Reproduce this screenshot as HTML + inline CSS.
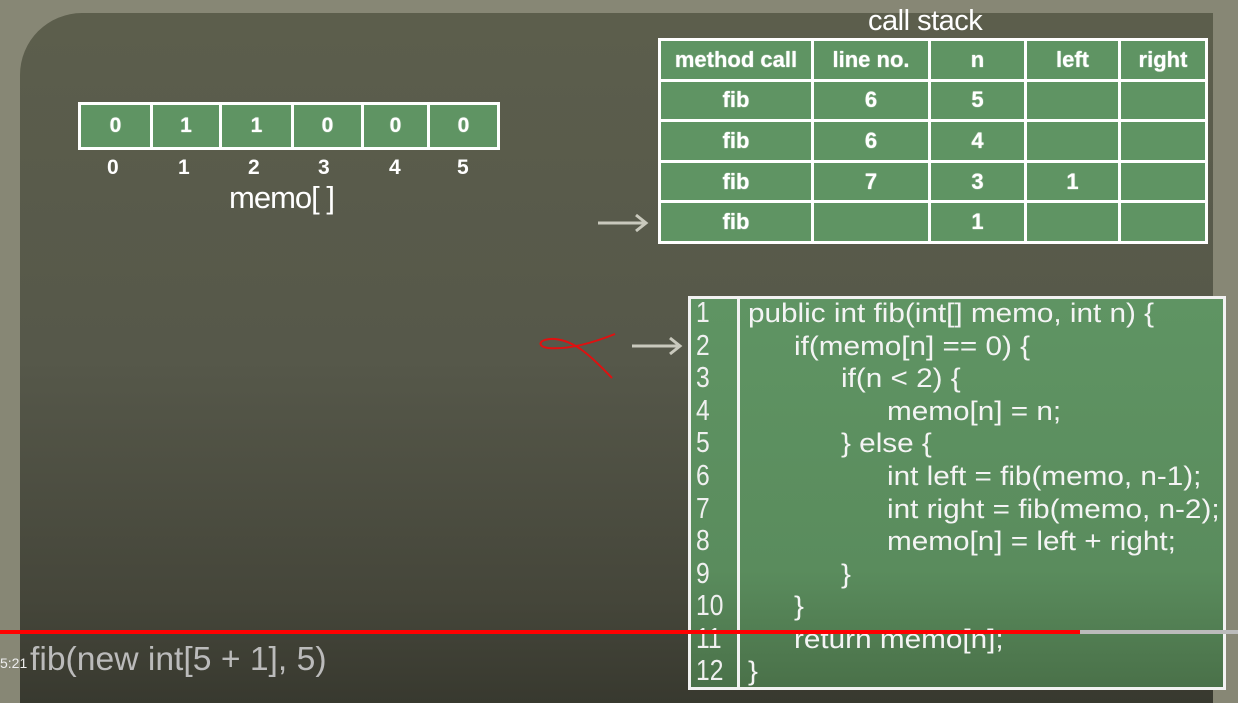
<!DOCTYPE html>
<html><head><style>
*{margin:0;padding:0;box-sizing:border-box}
body{width:1238px;height:693px;overflow:hidden;background:#878775;position:relative;font-family:"Liberation Sans",sans-serif;color:#fff}
#panel{position:absolute;left:20px;top:13px;width:1193px;height:690px;border-radius:62px 0 0 0;background:linear-gradient(#5c5e4c 0%,#56584a 50%,#45463a 85%,#38392f 100%)}
.abs{position:absolute}
table{border-collapse:collapse;position:absolute}
td{border:3px solid #fff;background:#5f9463;text-align:center;font-weight:bold;color:#fff;text-shadow:0 0 1px #fff}
.code{position:absolute;left:688px;top:296px;width:538px;height:394px;border:3px solid #f2f2f2;background:linear-gradient(#5f9463 0%,#5a8c5d 70%,#4a7149 100%)}
.ln{position:absolute;left:0;top:0;width:49px;height:100%;border-right:3px solid #f2f2f2}
.l{position:absolute;font-size:27px;line-height:30px;white-space:pre;color:#f4f4f4;transform:scaleX(1.1);transform-origin:0 0}
.n{position:absolute;left:696px;font-size:29px;line-height:30px;color:#f0f0f0;transform:scaleX(0.85);transform-origin:0 0}
</style></head><body>
<div id="panel"></div>
<table style="left:78px;top:102px;width:422px;height:48px">
<tr><td style="width:72px;font-size:21px">0</td><td style="width:69px;font-size:21px">1</td><td style="width:72px;font-size:21px">1</td><td style="width:70px;font-size:21px">0</td><td style="width:66px;font-size:21px">0</td><td style="font-size:21px">0</td></tr>
</table>
<div class="abs" style="top:156px;left:78px;width:422px;font-weight:bold;font-size:21px">
<span class="abs" style="left:29px">0</span><span class="abs" style="left:100px">1</span><span class="abs" style="left:170px">2</span><span class="abs" style="left:240px">3</span><span class="abs" style="left:311px">4</span><span class="abs" style="left:379px">5</span></div>
<div class="abs" style="left:229px;top:180px;font-size:31px;letter-spacing:-1px">memo[ ]</div>
<div class="abs" style="left:868px;top:5px;font-size:29px;letter-spacing:-0.5px">call stack</div>
<table style="left:658px;top:38px;width:550px;height:206px;font-size:22px">
<tr><td style="width:153px">method call</td><td style="width:117px">line no.</td><td style="width:96px">n</td><td style="width:94px">left</td><td>right</td></tr>
<tr><td>fib</td><td>6</td><td>5</td><td></td><td></td></tr>
<tr><td>fib</td><td>6</td><td>4</td><td></td><td></td></tr>
<tr><td>fib</td><td>7</td><td>3</td><td>1</td><td></td></tr>
<tr><td>fib</td><td></td><td>1</td><td></td><td></td></tr>
</table>
<svg class="abs" style="left:0;top:0" width="1238" height="693">
<g stroke="#c9c9bd" stroke-width="3" fill="none">
<line x1="598" y1="223" x2="645" y2="223"/><polyline points="636,215 646,223 636,231"/>
<line x1="632" y1="346" x2="679" y2="346"/><polyline points="670,338 680,346 670,354"/>
</g>
<path d="M615,334 C595,342 570,350 548,348 C535,346 540,338 555,339 C575,341 590,355 612,378" stroke="#e01010" stroke-width="2" fill="none"/>
</svg>
<div class="code"><div class="ln"></div></div>
<div class="n" style="top:298px">1</div><div class="n" style="top:331px">2</div><div class="n" style="top:363px">3</div><div class="n" style="top:396px">4</div><div class="n" style="top:428px">5</div><div class="n" style="top:461px">6</div><div class="n" style="top:494px">7</div><div class="n" style="top:526px">8</div><div class="n" style="top:559px">9</div><div class="n" style="top:591px">10</div><div class="n" style="top:624px">11</div><div class="n" style="top:656px">12</div>
<div class="l" style="left:748px;top:298px">public int fib(int[] memo, int n) {</div>
<div class="l" style="left:794px;top:331px">if(memo[n] == 0) {</div>
<div class="l" style="left:841px;top:363px">if(n &lt; 2) {</div>
<div class="l" style="left:887px;top:396px">memo[n] = n;</div>
<div class="l" style="left:841px;top:428px">} else {</div>
<div class="l" style="left:887px;top:461px">int left = fib(memo, n-1);</div>
<div class="l" style="left:887px;top:494px">int right = fib(memo, n-2);</div>
<div class="l" style="left:887px;top:526px">memo[n] = left + right;</div>
<div class="l" style="left:841px;top:559px">}</div>
<div class="l" style="left:794px;top:591px">}</div>
<div class="l" style="left:794px;top:624px">return memo[n];</div>
<div class="l" style="left:748px;top:656px">}</div>
<svg class="abs" style="left:0;top:0" width="1238" height="693">
<rect x="0" y="630" width="1238" height="4" fill="#ff0000"/>
<rect x="1080" y="630" width="158" height="4" fill="#bbb"/>
</svg>
<div class="abs" style="left:0;top:655px;font-size:14px;color:#eee">5:21</div>
<div class="abs" style="left:30px;top:640px;font-size:33px;color:#bbb;transform:scaleX(1.02);transform-origin:0 0">fib(new int[5 + 1], 5)</div>
</body></html>
